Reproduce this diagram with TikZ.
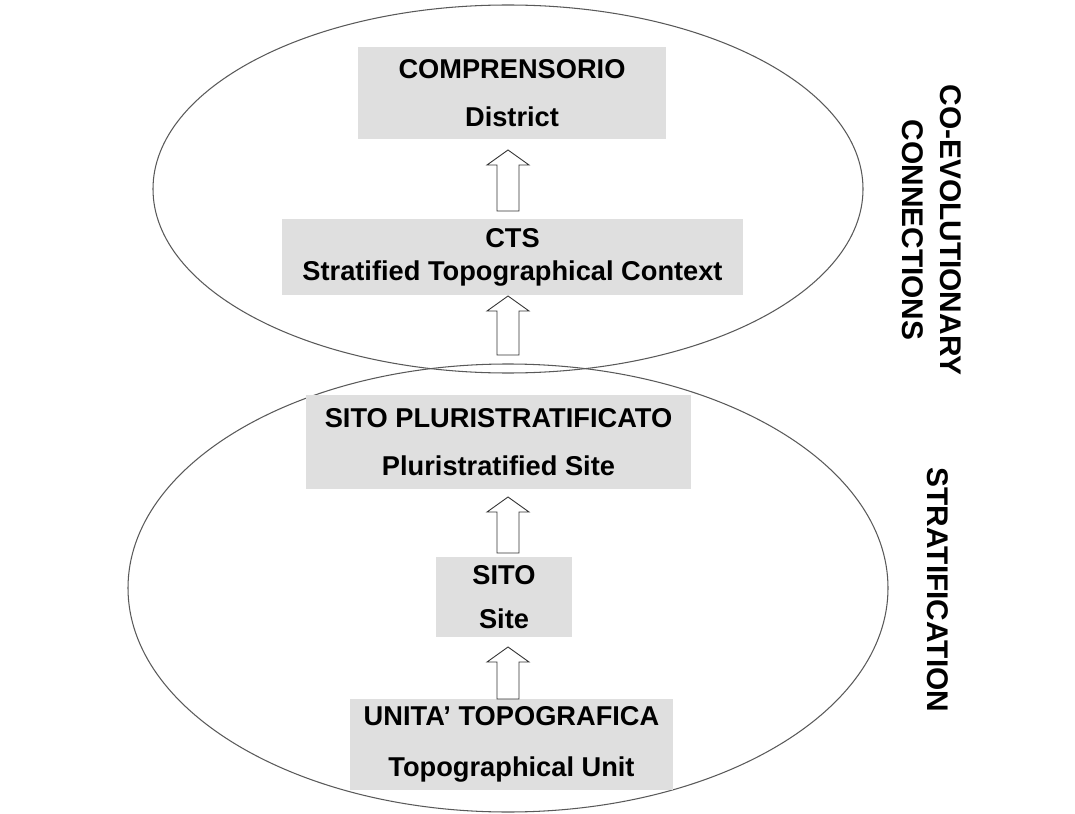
\documentclass[tikz,border=0pt]{standalone}
\usepackage{fontspec}
\setmainfont{Liberation Sans}
\usepackage{tikz}
\usetikzlibrary{positioning,calc}

\tikzset{
	levelbox/.style={fill=gray!25, draw=none, align=center, inner sep=0pt, font={\fontsize{15.5}{18.6}\selectfont\bfseries}},
	ringline/.style={draw=black!65, line width=0.6pt},
	sidelabel/.style={rotate=-90, align=center, font={\fontsize{17}{20.4}\selectfont\bfseries}},
	hollowarrow/.style={draw=black!80, fill=white, line width=0.5pt, line join=miter}
}

\newcommand{\blockarrow}[2]{%
	\draw[hollowarrow] ($(#1)+(-11,0)$) -- ($(#2)+(-11,15)$) -- ($(#2)+(-21,15)$) -- (#2) -- ($(#2)+(21,15)$) -- ($(#2)+(11,15)$) -- ($(#1)+(11,0)$) -- cycle;
}

\begin{document}
		\begin{tikzpicture}[x=0.02cm, y=-0.02cm]
			\useasboundingbox (0,0) rectangle (1075,814);

			\draw[ringline] (508,189) ellipse [x radius=355, y radius=184];
			\draw[ringline] (508,588) ellipse [x radius=380, y radius=224];

			\node[levelbox, minimum width=6.16cm, minimum height=1.84cm] (comp) at (512,93) {COMPRENSORIO\\[8.7pt]District};
			\node[levelbox, minimum width=9.22cm, minimum height=1.52cm] (cts) at (512.5,257) {CTS\\[0.2pt]Stratified Topographical Context};
			\node[levelbox, minimum width=7.70cm, minimum height=1.88cm] (pluri) at (498.5,442) {SITO PLURISTRATIFICATO\\[8.7pt]Pluristratified Site};
			\node[levelbox, minimum width=2.72cm, minimum height=1.60cm] (sito) at (504,597) {SITO\\[6.4pt]Site};
			\node[levelbox, minimum width=6.46cm, minimum height=1.82cm] (unita) at (511.5,744.5) {UNITA’ TOPOGRAFICA\\[10.4pt]Topographical Unit};

			\coordinate (a1tail) at (508,211);
			\coordinate (a1tip) at (508,150);
			\coordinate (a2tail) at (508,355);
			\coordinate (a2tip) at (508,296);
			\coordinate (a3tail) at (508,553);
			\coordinate (a3tip) at (508,497);
			\coordinate (a4tail) at (508,699);
			\coordinate (a4tip) at (508,647);
			\blockarrow{a1tail}{a1tip}
			\blockarrow{a2tail}{a2tip}
			\blockarrow{a3tail}{a3tip}
			\blockarrow{a4tail}{a4tip}

			\node[sidelabel] (coevo) at (932,230) {CO-EVOLUTIONARY\\[1.2pt]CONNECTIONS};
			\node[sidelabel] (strat) at (938,590) {STRATIFICATION};
		\end{tikzpicture}
\end{document}
